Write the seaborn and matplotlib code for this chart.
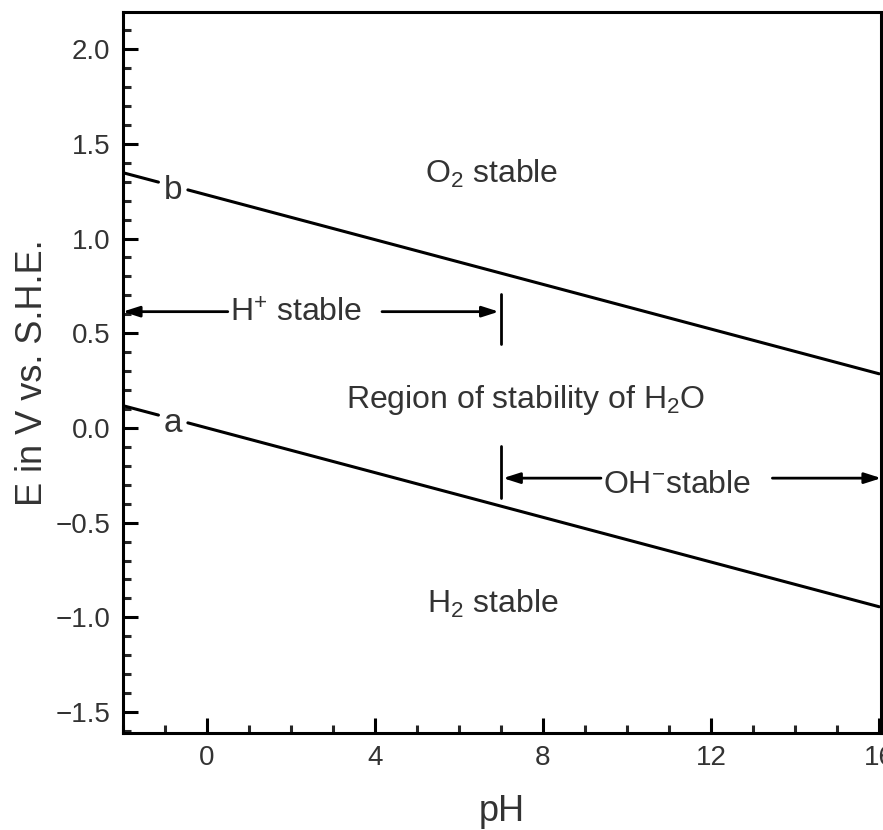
import matplotlib
matplotlib.use("Agg")
import matplotlib.pyplot as plt
import seaborn as sns
import pandas as pd
from matplotlib.ticker import MultipleLocator

# Data
ph_a1 = [-2.0, -1.15]
e_a1 = [0.118, 0.068]
ph_a2 = [-0.45, 16.0]
e_a2 = [0.027, -0.944]
ph_b1 = [-2.0, -1.15]
e_b1 = [1.348, 1.298]
ph_b2 = [-0.45, 16.0]
e_b2 = [1.257, 0.286]

x_ticks = [0, 4, 8, 12, 16]
y_ticks = [-1.5, -1.0, -0.5, 0.0, 0.5, 1.0, 1.5, 2.0]

sns.set_style("ticks")
plt.rcParams['font.family'] = ['Liberation Sans', 'DejaVu Sans']
plt.rcParams['mathtext.fontset'] = 'custom'
plt.rcParams['mathtext.rm'] = 'Liberation Sans'
plt.rcParams['mathtext.it'] = 'Liberation Sans'

fig = plt.figure(figsize=(8.83, 8.30), dpi=100)
ax = fig.add_axes([0.139, 0.117, 0.859, 0.8685])

for px, py in [(ph_a1, e_a1), (ph_a2, e_a2), (ph_b1, e_b1), (ph_b2, e_b2)]:
    df = pd.DataFrame({"pH": px, "E": py})
    sns.lineplot(data=df, x="pH", y="E", ax=ax, color="black", linewidth=2.2)

ax.set_xlim(-2.0, 16.05)
ax.set_ylim(-1.61, 2.196)
ax.set_xticks(x_ticks)
ax.set_xticklabels([str(t) for t in x_ticks])
ax.set_yticks(y_ticks)
ax.set_yticklabels([f"{t:.1f}".replace("-", "\u2212") for t in y_ticks])
ax.xaxis.set_minor_locator(MultipleLocator(1))
ax.yaxis.set_minor_locator(MultipleLocator(0.1))
ax.tick_params(axis="both", which="major", direction="in", length=11, width=2.2,
               labelsize=20, colors="black", labelcolor="#333333", pad=9)
ax.tick_params(axis="both", which="minor", direction="in", length=6, width=2.2)
ax.tick_params(top=False, right=False, which="both")
for s in ax.spines.values():
    s.set_linewidth(2.2)
    s.set_color("black")

ax.set_xlabel("pH", fontsize=26, color="#333333", labelpad=16)
ax.set_ylabel("E in V vs. S.H.E.", fontsize=26, color="#333333", labelpad=4)

tc = "#333333"
fs = 23
ax.text(-0.8, 0.026, "a", fontsize=24, color=tc, ha="center", va="center")
ax.text(-0.8, 1.254, "b", fontsize=24, color=tc, ha="center", va="center")
ax.text(6.78, 1.296, r"O$_{2}$ stable", fontsize=fs, color=tc, ha="center", va="baseline")
ax.text(7.58, 0.106, r"Region of stability of H$_{2}$O", fontsize=fs, color=tc, ha="center", va="baseline")
ax.text(6.8, -0.979, r"H$_{2}$ stable", fontsize=fs, color=tc, ha="center", va="baseline")
ax.text(2.12, 0.56, r"H$^{+}$ stable", fontsize=fs, color=tc, ha="center", va="baseline")
ax.text(11.2, -0.344, r"OH$^{-}$stable", fontsize=fs, color=tc, ha="center", va="baseline")

arrow_kw = dict(arrowstyle="-|>,head_length=1.0,head_width=0.32", color="black", lw=2, shrinkA=0, shrinkB=0)
ax.annotate("", xy=(-2.0, 0.614), xytext=(0.5, 0.614), arrowprops=arrow_kw)
ax.annotate("", xy=(6.95, 0.614), xytext=(4.17, 0.614), arrowprops=arrow_kw)
ax.plot([7.0, 7.0], [0.444, 0.709], color="black", lw=2)
ax.annotate("", xy=(7.05, -0.265), xytext=(9.38, -0.265), arrowprops=arrow_kw)
ax.annotate("", xy=(16.05, -0.265), xytext=(13.46, -0.265), arrowprops=arrow_kw)
ax.plot([7.0, 7.0], [-0.095, -0.37], color="black", lw=2)

fig.savefig("out.png", dpi=100)
